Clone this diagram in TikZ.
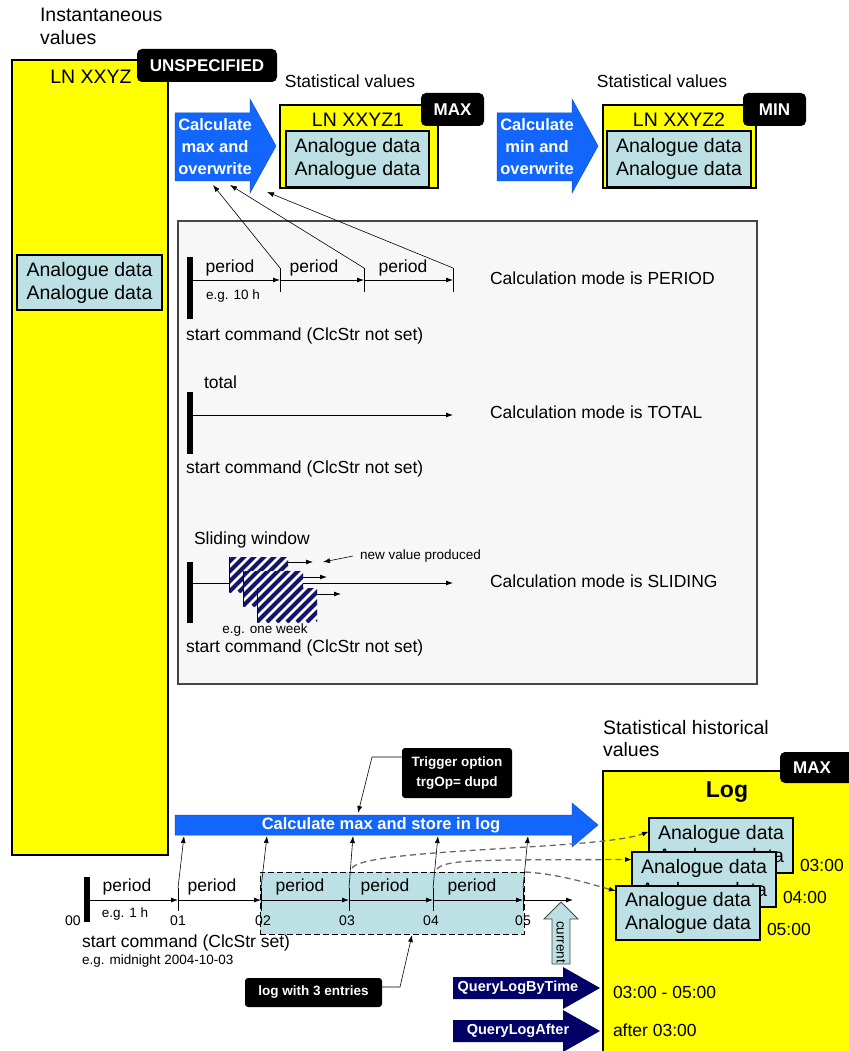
\documentclass[tikz,border=0pt]{standalone}
\usepackage{fontspec}
\setmainfont{Liberation Sans}
\usetikzlibrary{arrows.meta,calc}
\definecolor{lnyellow}{RGB}{255,255,0}
\definecolor{datacyan}{RGB}{188,224,228}
\definecolor{calcblue}{RGB}{18,102,252}
\definecolor{querynavy}{RGB}{0,0,102}
\definecolor{panelgray}{RGB}{247,247,247}
\definecolor{panelline}{RGB}{70,70,70}
\definecolor{hatchnavy}{RGB}{20,20,110}
\definecolor{flowgray}{RGB}{105,105,105}
\newcommand{\setfs}[2]{\fontsize{#1}{#2}\selectfont}
\begin{document}
\begin{tikzpicture}[x=1pt,y=-1pt,
  every node/.style={inner sep=0pt,outer sep=0pt},
  txt/.style={font=\setfs{17.5}{21}},
  big/.style={font=\setfs{19.5}{23}},
  small/.style={font=\setfs{13.5}{16}},
  lnbox/.style={draw=black,fill=lnyellow,line width=1.2pt},
  databox/.style={draw=black,fill=datacyan,line width=1.2pt,font=\setfs{19.5}{23},align=center},
  tag/.style={fill=black,rounded corners=5pt,text=white,font=\bfseries\setfs{17}{20}},
  arr/.style={-{Latex[length=7pt,width=5pt]},line width=0.8pt},
  bar/.style={line width=6pt},
  calc/.style={fill=calcblue,draw=calcblue!80!black,line width=0.5pt},
  calctext/.style={text=white,font=\bfseries\setfs{16.5}{22},align=center},
  query/.style={fill=querynavy},
  querytext/.style={text=white,font=\bfseries\setfs{14.5}{17}},
  flow/.style={draw=flowgray,line width=1.3pt,dash pattern=on 6pt off 4pt,-{Latex[length=7pt,width=5pt,black]}},
  note/.style={fill=black,rounded corners=3pt,text=white,font=\bfseries\setfs{13.5}{20},align=center}
]
\useasboundingbox (0,0) rectangle (848,1051);

% ---------- instantaneous values ----------
\node[big,anchor=west] (insttitle) at (40,15) {Instantaneous};
\node[big,anchor=west] (insttitle2) at (40,38) {values};
\node[lnbox,minimum width=156pt,minimum height=795pt] (ln) at (90,457.5) {};
\node[big] (lnname) at (91,77) {LN XXYZ};
\node[tag,minimum width=140pt,minimum height=33pt] (unspec) at (207,65.5) {UNSPECIFIED};
\node[databox,minimum width=145pt,minimum height=55pt] (lndata) at (89.5,282.5) {Analogue data\\Analogue data};

% ---------- statistical values: max ----------
\fill[calc] (175,113) -- (250,113) -- (250,99) -- (276,146) -- (250,193) -- (250,181) -- (175,181) -- cycle;
\node[calctext] (calcmax) at (215,147) {Calculate\\max and\\overwrite};
\node[txt] (stat1) at (350,81) {Statistical values};
\node[lnbox,minimum width=158pt,minimum height=83pt] (ln1) at (359,146.5) {};
\node[tag,minimum width=63pt,minimum height=33pt] (max1) at (452.5,109.5) {MAX};
\node[big] (ln1name) at (358,120) {LN XXYZ1};
\node[databox,minimum width=143pt,minimum height=56pt] (ln1data) at (357.5,159) {Analogue data\\Analogue data};

% ---------- statistical values: min ----------
\fill[calc] (497,113) -- (572,113) -- (572,99) -- (598,146) -- (572,193) -- (572,181) -- (497,181) -- cycle;
\node[calctext] (calcmin) at (537,147) {Calculate\\min and\\overwrite};
\node[txt] (stat2) at (662,81) {Statistical values};
\node[lnbox,minimum width=153pt,minimum height=83pt] (ln2) at (679.5,146.5) {};
\node[tag,minimum width=63pt,minimum height=33pt] (min2) at (774.5,109.5) {MIN};
\node[big] (ln2name) at (679,120) {LN XXYZ2};
\node[databox,minimum width=144pt,minimum height=56pt] (ln2data) at (679,159) {Analogue data\\Analogue data};

% ---------- calculation modes panel ----------
\node[draw=panelline,fill=panelgray,line width=1.3pt,minimum width=579pt,minimum height=463pt] (panel) at (467.5,452.5) {};

% PERIOD
\coordinate (pa) at (190,280);
\coordinate (pb) at (280,280);
\coordinate (pc) at (364,280);
\coordinate (pd) at (453,280);
\coordinate (pbt) at (280,268);
\coordinate (pct) at (364,268);
\coordinate (pdt) at (453,268);
\draw[bar] (190,257) -- (190,319);
\draw[arr] (pa) -- (pb);
\draw[arr] (pb) -- (pc);
\draw[arr] (pc) -- (pd);
\foreach \t in {280,364,453} \draw[line width=0.8pt] (\t,268) -- (\t,292);
\node[txt] (per1) at (230,268) {period};
\node[txt] (per2) at (314,268) {period};
\node[txt] (per3) at (403,268) {period};
\node[small] (eg10) at (233,296) {e.g. 10 h};
\node[txt,anchor=west] (start1) at (186,336) {start command (ClcStr not set)};
\node[txt,anchor=west] (mode1) at (490,278) {Calculation mode is PERIOD};
\coordinate (cm1) at (213,185);
\coordinate (cm2) at (230,185);
\coordinate (cm3) at (267,192);
\draw[arr,line width=0.6pt] (pbt) -- (cm1);
\draw[arr,line width=0.6pt] (pct) -- (cm2);
\draw[arr,line width=0.6pt] (pdt) -- (cm3);

% TOTAL
\coordinate (ta) at (190,415);
\coordinate (tb) at (453,415);
\draw[bar] (190,392) -- (190,454);
\draw[arr] (ta) -- (tb);
\node[txt,anchor=west] (total) at (204,382) {total};
\node[txt,anchor=west] (start2) at (186,469) {start command (ClcStr not set)};
\node[txt,anchor=west] (mode2) at (490,412) {Calculation mode is TOTAL};

% SLIDING
\coordinate (sa) at (190,583);
\coordinate (sb) at (453,583);
\draw[bar] (190,562) -- (190,623);
\draw[arr] (sa) -- (sb);
\foreach \xa/\ya/\xb/\yb in {229/557/288/592, 243/571/303/606, 257/588/317/622} {
  \fill[white] (\xa,\ya) rectangle (\xb,\yb);
  \begin{scope}
    \clip (\xa,\ya) rectangle (\xb,\yb);
    \foreach \k in {-40,-30,...,70}
      \draw[hatchnavy,line width=4pt] (\xa+\k,\yb) -- (\xa+\k+40,\yb-40);
  \end{scope}
  \draw[line width=0.8pt] (\xa,\ya) -- (\xa,\yb);
}
\coordinate (w1) at (288,562); \coordinate (w1e) at (313,562);
\coordinate (w2) at (303,577); \coordinate (w2e) at (327,577);
\coordinate (w3) at (317,594); \coordinate (w3e) at (341,594);
\draw[arr] (w1) -- (w1e);
\draw[arr] (w2) -- (w2e);
\draw[arr] (w3) -- (w3e);
\node[txt,anchor=west] (slide) at (194,540) {Sliding window};
\node[small,anchor=west] (newval) at (360,556) {new value produced};
\coordinate (nvs) at (353,556);
\coordinate (nve) at (323,562);
\draw[arr,line width=0.6pt] (nvs) -- (nve);
\node[small] (egweek) at (265,630) {e.g. one week};
\node[txt,anchor=west] (start3) at (186,648) {start command (ClcStr not set)};
\node[txt,anchor=west] (mode3) at (490,581) {Calculation mode is SLIDING};

% ---------- statistical historical values ----------
\node[big,anchor=west] (histtitle) at (603,728) {Statistical historical};
\node[big,anchor=west] (histtitle2) at (603,750) {values};
\node[lnbox,minimum width=257pt,minimum height=289pt] (logbox) at (731.5,915.5) {};
\node[tag,minimum width=80pt,minimum height=31pt] (maxlog) at (820,767.5) {};
\node[text=white,font=\bfseries\setfs{17}{20}] (maxlogtext) at (812,767.5) {MAX};
\node[font=\bfseries\setfs{23}{26}] (logname) at (727,792) {Log};
\node[databox,minimum width=144pt,minimum height=55pt] (e1) at (721,845.5) {Analogue data\\Analogue data};
\node[databox,minimum width=144pt,minimum height=55pt] (e2) at (704,879.5) {Analogue data\\Analogue data};
\node[databox,minimum width=144pt,minimum height=54pt] (e3) at (688,913) {Analogue data\\Analogue data};
\node[txt,anchor=west] (h3) at (800,865) {03:00};
\node[txt,anchor=west] (h4) at (783,897) {04:00};
\node[txt,anchor=west] (h5) at (767,929) {05:00};

% ---------- logging timeline ----------
\node[draw=black,fill=datacyan,line width=1pt,dash pattern=on 6pt off 3pt,minimum width=264pt,minimum height=62pt] (logged) at (392,903) {};
\fill[calc] (175,815) -- (572,815) -- (572,803) -- (598,825) -- (572,847) -- (572,835) -- (175,835) -- cycle;
\node[calctext] (calclog) at (381,825) {Calculate max and store in log};

\coordinate (b0) at (87,900);
\coordinate (b1) at (178,900);
\coordinate (b2) at (261,900);
\coordinate (b3) at (349,900);
\coordinate (b4) at (433,900);
\coordinate (b5) at (523,900);
\coordinate (bend) at (573,900);
\draw[bar] (87,877) -- (87,922);
\draw[arr] (b0) -- (b1);
\draw[arr] (b1) -- (b2);
\draw[arr] (b2) -- (b3);
\draw[arr] (b3) -- (b4);
\draw[arr] (b4) -- (b5);
\draw[arr] (b5) -- (bend);
\foreach \t in {178,261,349,433,523} \draw[line width=0.8pt] (\t,888) -- (\t,911);
\node[txt] (bp1) at (127,887) {period};
\node[txt] (bp2) at (212,887) {period};
\node[txt] (bp3) at (300,887) {period};
\node[txt] (bp4) at (385,887) {period};
\node[txt] (bp5) at (472,887) {period};
\node[small] (eg1h) at (125,914) {e.g. 1 h};
\node[font=\setfs{14}{16}] (n00) at (73,921) {00};
\node[font=\setfs{14}{16}] (n01) at (178,921) {01};
\node[font=\setfs{14}{16}] (n02) at (263,921) {02};
\node[font=\setfs{14}{16}] (n03) at (347,921) {03};
\node[font=\setfs{14}{16}] (n04) at (431,921) {04};
\node[font=\setfs{14}{16}] (n05) at (523,921) {05};
\node[txt,anchor=west] (start4) at (82,943) {start command (ClcStr set)};
\node[small,anchor=west] (egmid) at (82,961) {e.g. midnight 2004-10-03};

% calculation triggered at each period end
\coordinate (u1) at (178,888); \coordinate (v1) at (184,836);
\coordinate (u2) at (261,888); \coordinate (v2) at (267,836);
\coordinate (u3) at (349,888); \coordinate (v3) at (353,836);
\coordinate (u4) at (433,888); \coordinate (v4) at (438,836);
\coordinate (u5) at (523,888); \coordinate (v5) at (528,836);
\draw[arr,line width=0.6pt] (u1) -- (v1);
\draw[arr,line width=0.6pt] (u2) -- (v2);
\draw[arr,line width=0.6pt] (u3) -- (v3);
\draw[arr,line width=0.6pt] (u4) -- (v4);
\draw[arr,line width=0.6pt] (u5) -- (v5);

% log entries written at 03, 04, 05
\coordinate (f3) at (352,868);
\coordinate (f4) at (437,869);
\coordinate (f5) at (525,872);
\draw[flow] (f3) .. controls (366,848) and (600,850) .. ($(e1.west)+(0,-14)$);
\draw[flow] (f4) .. controls (446,859) and (480,860) .. ($(e2.west)+(0,-20)$);
\draw[flow] (f5) .. controls (560,874) and (590,884) .. ($(e3.west)+(0,-22)$);

% trigger option and log size notes
\node[note,minimum width=110pt,minimum height=50pt] (trig) at (457,773) {Trigger option\\trgOp= dupd};
\coordinate (trigk) at (372,757);
\coordinate (trige) at (358,813);
\draw[arr,line width=0.6pt] (trig.west |- trigk) -- (trigk) -- (trige);
\node[note,minimum width=137pt,minimum height=29pt] (log3) at (313.5,992.5) {log with 3 entries};
\coordinate (logk) at (400,987);
\coordinate (loge) at (412,935);
\draw[arr,line width=0.6pt] (log3.east |- logk) -- (logk) -- (loge);

% current time marker
\draw[fill=datacyan,draw=panelline,line width=0.8pt] (552,964) -- (552,919) -- (544,919) -- (561,902) -- (578,919) -- (570,919) -- (570,964) -- cycle;
\node[rotate=-90,font=\setfs{13.5}{16}] (current) at (561,942) {current};

% ---------- log queries ----------
\fill[query] (453,977) -- (563,977) -- (563,967) -- (600,988) -- (563,1009) -- (563,999) -- (453,999) -- cycle;
\node[querytext] (qtime) at (518,988) {QueryLogByTime};
\fill[query] (453,1020) -- (563,1020) -- (563,1010) -- (600,1031) -- (563,1052) -- (563,1042) -- (453,1042) -- cycle;
\node[querytext] (qafter) at (518,1031) {QueryLogAfter};
\node[txt,anchor=west] (rtime) at (613,992) {03:00 - 05:00};
\node[txt,anchor=west] (rafter) at (613,1030) {after 03:00};
\end{tikzpicture}
\end{document}
